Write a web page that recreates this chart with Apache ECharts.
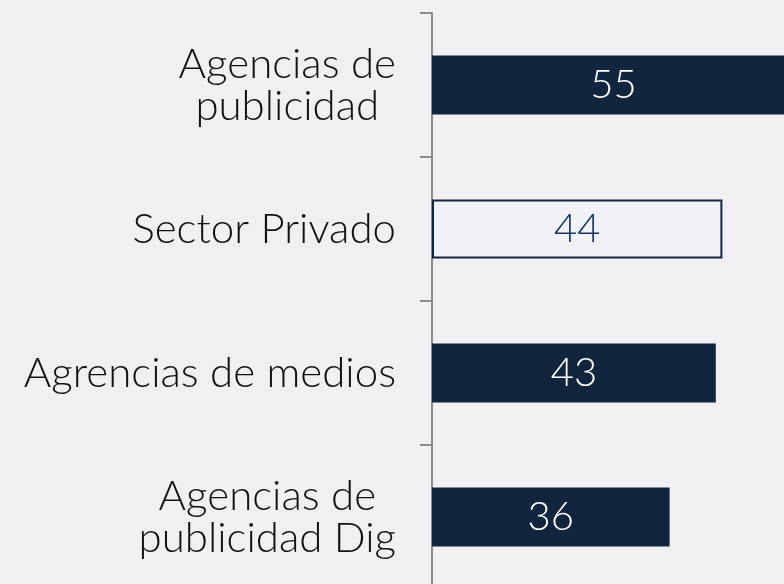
<!DOCTYPE html>
<html>
<head>
<meta charset="utf-8">
<script src="https://cdn.jsdelivr.net/npm/echarts@6/dist/echarts.min.js"></script>
<style>
  html, body { margin: 0; padding: 0; background: #f0f0f2; overflow: hidden; }
  /* chart area is a bit larger than the window: the first bar and the axis run off the edges */
  #main { width: 828px; height: 589px; }
</style>
</head>
<body>
<div id="main"></div>
<script>
const categories = ['Agencias de\npublicidad', 'Sector Privado', 'Agrencias de medios', 'Agencias de\npublicidad Dig'];
const values = [55, 44, 43, 36];
const outlined = [false, true, false, false];

var chartDom = document.getElementById('main');
var myChart = echarts.init(chartDom, null, { renderer: 'canvas' });

const navy = '#12253f';
const font = 'Lato';

var data = values.map(function (v, i) {
    if (outlined[i]) {
        return {
            value: v,
            itemStyle: { color: '#f1f2f5', borderColor: navy, borderWidth: 2 },
            label: { color: '#1b3466' }
        };
    }
    return { value: v };
});

var option = {
    backgroundColor: '#f0f0f2',
    animation: false,
    grid: { left: 432, right: 0, top: 13, bottom: 0, containLabel: false },
    xAxis: {
        type: 'value',
        min: 0,
        max: 60,
        show: false
    },
    yAxis: {
        type: 'category',
        inverse: true,
        data: categories,
        axisLine: { show: true, lineStyle: { color: '#8c8c8c', width: 2 } },
        axisTick: { show: true, length: 12, lineStyle: { color: '#8c8c8c', width: 2 } },
        axisLabel: {
            margin: 36,
            align: 'right',
            fontFamily: font,
            fontWeight: 300,
            fontSize: 42,
            color: '#111',
            formatter: function (val) {
                return val.split('\n').map(function (s) { return '{c|' + s + '}'; }).join('\n');
            },
            rich: {
                c: { align: 'center', fontFamily: font, fontWeight: 300, fontSize: 42, color: '#111', lineHeight: 42 }
            }
        },
        splitLine: { show: false }
    },
    series: [{
        type: 'bar',
        barWidth: 59,
        data: data,
        itemStyle: { color: navy },
        label: {
            show: true,
            position: 'inside',
            fontFamily: font,
            fontWeight: 300,
            fontSize: 40,
            color: '#ffffff'
        }
    }]
};

option && myChart.setOption(option);
</script>
</body>
</html>
